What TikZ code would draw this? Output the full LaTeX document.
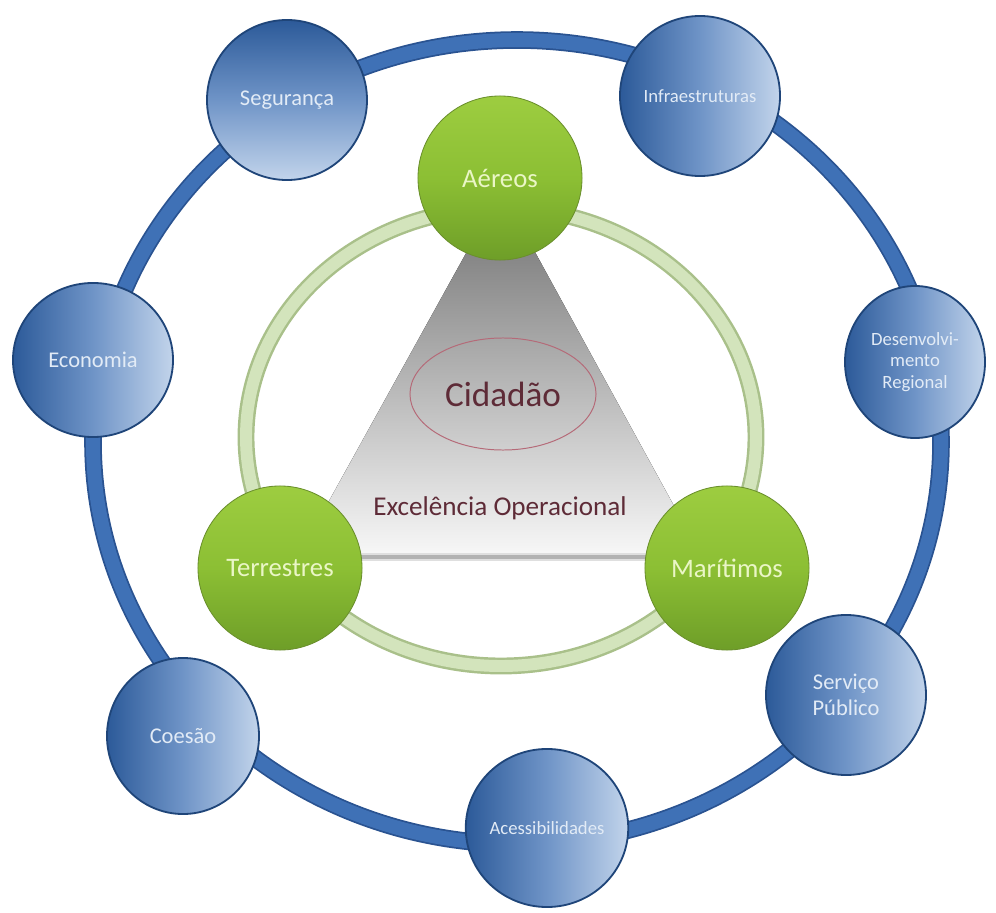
\documentclass[tikz,border=0pt]{standalone}
\usepackage{fontspec}
\setmainfont{Carlito}
\usetikzlibrary{shapes.geometric}

\definecolor{ringblue}{HTML}{3F71B6}
\definecolor{ringdark}{HTML}{2A5391}
\definecolor{balldark}{HTML}{2C5A99}
\definecolor{ballmid}{HTML}{6F94C7}
\definecolor{balllight}{HTML}{C2D4EB}
\definecolor{ballline}{HTML}{1F4579}
\definecolor{balltext}{HTML}{E2EBF6}
\definecolor{greentop}{HTML}{9DCD40}
\definecolor{greenmid}{HTML}{8CBF34}
\definecolor{greenbot}{HTML}{6E9E28}
\definecolor{greenline}{HTML}{6A8F2C}
\definecolor{greentext}{HTML}{EAF6C6}
\definecolor{paleouter}{HTML}{A9C08A}
\definecolor{paleinner}{HTML}{D3E4BC}
\definecolor{tritop}{HTML}{6E6E6E}
\definecolor{tribot}{HTML}{F8F8F8}
\definecolor{wine}{HTML}{5E2B37}
\definecolor{rosy}{HTML}{B56A78}

\tikzset{
blueball/.style={ellipse, draw=ballline, line width=1.3pt, left color=balldark, right color=balllight, middle color=ballmid, text=balltext, font=\fontsize{16}{19}\selectfont, align=center, inner sep=0pt, minimum width=4cm, minimum height=4cm},
blueballv/.style={blueball, top color=balldark, bottom color=balllight, middle color=ballmid},
smalltxt/.style={font=\fontsize{13.3}{15.3}\selectfont},
greenball/.style={circle, draw=greenline, line width=0.6pt, top color=greentop, bottom color=greenbot, middle color=greenmid, text=greentext, font=\fontsize{19}{22}\selectfont, inner sep=0pt, minimum size=4.1cm}
}

\begin{document}
\begin{tikzpicture}[x=0.025cm, y=-0.025cm]
\useasboundingbox (0,0) rectangle (996,913);
% outer ring
\draw[ringdark, line width=12.5pt] (517,442) ellipse [x radius=424, y radius=402];
\draw[ringblue, line width=10pt] (517,442) ellipse [x radius=424, y radius=402];
% blue balls
\node[blueballv] (seg) at (287,100) {Segurança};
\node[blueball, smalltxt] (infra) at (700,96) {Infraestruturas};
\node[blueball, minimum height=3.85cm] (econ) at (93,360) {Economia};
\node[blueball, smalltxt, minimum width=3.5cm, minimum height=3.8cm] (desenv) at (915,362) {Desenvolvi-\\mento\\Regional};
\node[blueball, font=\fontsize{16}{18.5}\selectfont] (serv) at (846,695) {Serviço\\Público};
\node[blueball, minimum width=3.8cm, minimum height=3.9cm] (coes) at (183,736) {Coesão};
\node[blueball, smalltxt, minimum width=3.9cm, minimum height=3.95cm] (acess) at (547,828) {Acessibilidades};
% inner ring
\draw[paleouter, line width=12pt] (501,437) ellipse [x radius=255, y radius=229];
\draw[paleinner, line width=8.5pt] (501,437) ellipse [x radius=255, y radius=229];
% triangle
\coordinate (topo) at (501,190);
\coordinate (esq) at (298,557);
\coordinate (dir) at (702,557);
\fill[top color=tritop, bottom color=tribot] (topo) -- (esq) -- (dir) -- cycle;
\draw[gray!25, line width=6pt] (esq) -- (dir);
\draw[gray!60, line width=2.5pt] (esq) -- (dir);
% green balls
\node[greenball] (aer) at (500,178) {Aéreos};
\node[greenball] (terr) at (280,568) {Terrestres};
\node[greenball] (mar) at (727,568) {Marítimos};
% centre
\node[ellipse, draw=rosy, line width=0.7pt, minimum width=4.65cm, minimum height=2.8cm, text=wine, font=\fontsize{25}{30}\selectfont] (cid) at (503,394) {Cidadão};
\node[text=wine, font=\fontsize{19.3}{23}\selectfont] (exc) at (500,508) {Excelência Operacional};
\end{tikzpicture}
\end{document}
